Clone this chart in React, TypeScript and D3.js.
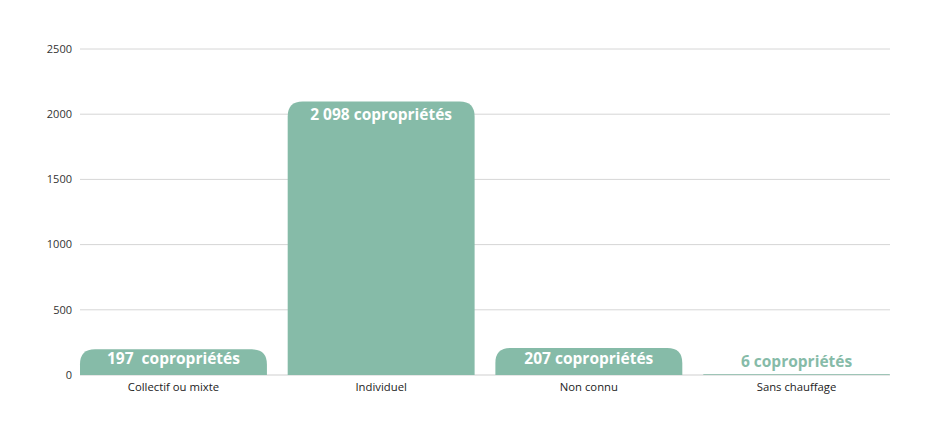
import React from "react";
import * as d3 from "d3";

const categories = ["Collectif ou mixte", "Individuel", "Non connu", "Sans chauffage"];
const values = [197, 2098, 207, 6];
const valueLabels = ["197  copropriétés", "2 098 copropriétés", "207 copropriétés", "6 copropriétés"];
const yTicks = [0, 500, 1000, 1500, 2000, 2500];

const W = 935;
const H = 437;
const M = { left: 80, right: 45, top: 49, bottom: 62 };
const BAR = "#86bba8";

function topRoundedRect(x: number, y: number, w: number, h: number, r: number) {
  const rr = Math.min(r, h, w / 2);
  return `M${x},${y + h}V${y + rr}Q${x},${y} ${x + rr},${y}H${x + w - rr}Q${x + w},${y} ${x + w},${y + rr}V${y + h}Z`;
}

export default function App() {
  const x = d3.scaleBand<string>().domain(categories).range([M.left, W - M.right]).paddingInner(0.1).paddingOuter(0);
  const y = d3.scaleLinear().domain([0, 2500]).range([H - M.bottom, M.top]);
  const y0 = y(0);
  return (
    <svg width={W} height={H} style={{ position: "absolute", left: 0, top: 0, fontFamily: "'Open Sans', sans-serif" }}>
      <rect width={W} height={H} fill="#fff" />
      {yTicks.map((t) => (
        <g key={t}>
          {t > 0 && <line x1={M.left} x2={W - M.right} y1={y(t)} y2={y(t)} stroke="#d6d6d6" strokeWidth={1} />}
          <text x={72} y={y(t)} dy="0.35em" textAnchor="end" fontSize={11} fill="#333">{t}</text>
        </g>
      ))}
      <line x1={M.left} x2={W - M.right} y1={y0} y2={y0} stroke="#cfcfcf" strokeWidth={1} />
      {categories.map((c, i) => {
        const bx = x(c)!;
        const bw = x.bandwidth();
        const top = y(values[i]);
        const h = y0 - top;
        const inside = h > 20;
        const ly = inside ? Math.min(top + 19, 364) : y0 - 8;
        return (
          <g key={c}>
            <path d={topRoundedRect(bx, top, bw, h, 15)} fill={BAR} />
            <text x={bx + bw / 2} y={ly} textAnchor="middle" fontSize={15.5} fontWeight={700}
              style={{ whiteSpace: "pre" }} fill={inside ? "#fff" : BAR}>{valueLabels[i]}</text>
            <text x={bx + bw / 2} y={y0 + 16} textAnchor="middle" fontSize={11.3} fill="#222">{c}</text>
          </g>
        );
      })}
    </svg>
  );
}
